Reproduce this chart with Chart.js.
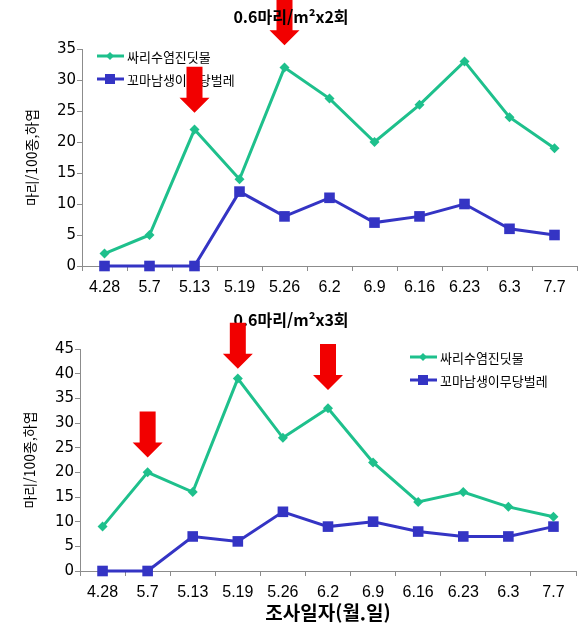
<!DOCTYPE html>
<html lang="ko">
<head>
    <meta charset="UTF-8">
    <title>싸리수염진딧물 / 꼬마남생이무당벌레 발생</title>
    <script src="https://cdn.jsdelivr.net/npm/chart.js@4.4.0/dist/chart.umd.min.js"></script>
    <style>
        body {
            margin: 0;
            background: #ffffff;
        }
        .wrap {
            position: relative;
            width: 586px;
            height: 634px;
        }
        #chart2x {
            position: absolute;
            left: 0;
            top: 0;
        }
        #chart3x {
            position: absolute;
            left: 0;
            top: 300px;
        }
    </style>
</head>
<body>
    <div class="wrap">
        <canvas id="chart2x" width="586" height="300"></canvas>
        <canvas id="chart3x" width="586" height="334"></canvas>
    </div>

    <script>
        // survey dates (month.day)
        const dates = ['4.28', '5.7', '5.13', '5.19', '5.26', '6.2', '6.9', '6.16', '6.23', '6.3', '7.7'];
        const seriesNames = ['싸리수염진딧물', '꼬마남생이무당벌레'];

        // release 0.6/m2 x 2 times
        const aphid2x = [2, 5, 22, 14, 32, 27, 20, 26, 33, 24, 19];
        const ladybird2x = [0, 0, 0, 12, 8, 11, 7, 8, 10, 6, 5];
        const yMax2x = 35;
        const arrowDates2x = ['5.13', '5.26'];
        const arrowTips2x = [24.7, 35.6];

        // release 0.6/m2 x 3 times
        const aphid3x = [9, 20, 16, 39, 27, 33, 22, 14, 16, 13, 11];
        const ladybird3x = [0, 0, 7, 6, 12, 9, 10, 8, 7, 7, 9];
        const yMax3x = 45;
        const arrowDates3x = ['5.7', '5.19', '6.2'];
        const arrowTips3x = [23, 41, 36.7];

        const yStep = 5;
        const title2x = '0.6마리/m²x2회';
        const title3x = '0.6마리/m²x3회';
        const yTitle = '마리/100종,하엽';
        const xTitle = '조사일자(월.일)';

        const GREEN = '#1ec08c';
        const BLUE = '#3434c4';
        const RED = '#f20000';
        const AXIS = '#8c8c8c';
        const KR = '"Noto Sans CJK KR", sans-serif';

        function drawMarker(ctx, style, x, y, r, color) {
            ctx.save();
            ctx.fillStyle = color;
            ctx.beginPath();
            if (style === 'rect') {
                ctx.rect(x - r, y - r, r * 2, r * 2);
            } else {
                ctx.moveTo(x, y - r);
                ctx.lineTo(x + r, y);
                ctx.lineTo(x, y + r);
                ctx.lineTo(x - r, y);
                ctx.closePath();
            }
            ctx.fill();
            ctx.restore();
        }

        // titles, legend and release arrows
        const extrasPlugin = {
            id: 'extras',
            afterDatasetsDraw(chart) {
                const opts = chart.options.plugins.extras;
                const ctx = chart.ctx;
                const xs = chart.scales.x;
                const ys = chart.scales.y;

                function drawTitle() {
                    ctx.save();
                    ctx.font = 'bold 16px ' + KR;
                    ctx.fillStyle = '#000';
                    ctx.textAlign = 'center';
                    ctx.textBaseline = 'middle';
                    ctx.fillText(opts.title, opts.titleX, opts.titleY);
                    ctx.restore();
                }

                function drawArrows() {
                    ctx.save();
                    ctx.fillStyle = RED;
                    opts.arrowDates.forEach((d, i) => {
                        const x = xs.getPixelForValue(dates.indexOf(d));
                        const tip = ys.getPixelForValue(opts.arrowTips[i]);
                        ctx.beginPath();
                        ctx.moveTo(x - 8, tip - 46);
                        ctx.lineTo(x + 8, tip - 46);
                        ctx.lineTo(x + 8, tip - 15);
                        ctx.lineTo(x + 15, tip - 15);
                        ctx.lineTo(x, tip);
                        ctx.lineTo(x - 15, tip - 15);
                        ctx.lineTo(x - 8, tip - 15);
                        ctx.closePath();
                        ctx.fill();
                    });
                    ctx.restore();
                }

                // legend
                ctx.save();
                chart.data.datasets.forEach((ds, i) => {
                    const y = opts.legendY + i * 23;
                    const x = opts.legendX;
                    ctx.strokeStyle = ds.borderColor;
                    ctx.lineWidth = 3;
                    ctx.beginPath();
                    ctx.moveTo(x, y);
                    ctx.lineTo(x + 27, y);
                    ctx.stroke();
                    drawMarker(ctx, ds.pointStyle, x + 13, y, ds.pointStyle === 'rect' ? 5 : 4, ds.borderColor);
                    ctx.font = '13px ' + KR;
                    ctx.fillStyle = '#000';
                    ctx.textBaseline = 'middle';
                    ctx.fillText(ds.label, x + 30, y + 1);
                });
                ctx.restore();

                if (opts.arrowsOnTop) {
                    drawTitle();
                    drawArrows();
                } else {
                    drawArrows();
                    drawTitle();
                }
            }
        };

        function makeChart(id, aphid, ladybird, yMax, setup) {
            return new Chart(document.getElementById(id), {
                type: 'line',
                data: {
                    labels: dates,
                    datasets: [{
                        label: seriesNames[0],
                        data: aphid,
                        borderColor: GREEN,
                        backgroundColor: GREEN,
                        borderWidth: 3,
                        pointStyle: 'rectRot',
                        pointRadius: 5,
                        pointBorderWidth: 0,
                        tension: 0,
                        clip: false
                    }, {
                        label: seriesNames[1],
                        data: ladybird,
                        borderColor: BLUE,
                        backgroundColor: BLUE,
                        borderWidth: 3,
                        pointStyle: 'rect',
                        pointRadius: 7.5,
                        pointBorderWidth: 0,
                        tension: 0,
                        clip: false
                    }]
                },
                options: {
                    responsive: false,
                    animation: false,
                    layout: {
                        padding: { top: setup.top, right: setup.right, left: 0, bottom: 0 }
                    },
                    plugins: {
                        legend: { display: false },
                        tooltip: { enabled: false },
                        extras: setup.extras
                    },
                    scales: {
                        x: {
                            offset: true,
                            afterFit(scale) { scale.height = setup.xHeight; },
                            grid: {
                                offset: true,
                                drawOnChartArea: false,
                                color: AXIS,
                                tickLength: 5
                            },
                            border: { color: AXIS, width: 1 },
                            ticks: {
                                color: '#000',
                                padding: 7,
                                maxRotation: 0,
                                autoSkip: false,
                                font: { family: 'Liberation Sans', size: 16 }
                            },
                            title: {
                                display: setup.showXTitle,
                                text: xTitle,
                                color: '#000',
                                font: { family: KR, size: 19, weight: 'bold' },
                                padding: { top: 0, bottom: 10 }
                            }
                        },
                        y: {
                            min: 0,
                            max: yMax,
                            afterFit(scale) { scale.width = setup.yWidth; },
                            grid: {
                                drawOnChartArea: false,
                                color: AXIS,
                                tickLength: 5
                            },
                            border: { color: AXIS, width: 1 },
                            ticks: {
                                stepSize: yStep,
                                color: '#000',
                                padding: 1,
                                font: { family: 'DejaVu Sans', size: 15 }
                            },
                            title: {
                                display: true,
                                text: yTitle,
                                color: '#000',
                                font: { family: KR, size: 14 },
                                padding: { top: setup.yTitlePad, bottom: 0 }
                            }
                        }
                    }
                },
                plugins: [extrasPlugin]
            });
        }

        makeChart('chart2x', aphid2x, ladybird2x, yMax2x, {
            top: 49, right: 9, xHeight: 34, yWidth: 82, yTitlePad: 23, showXTitle: false,
            extras: {
                title: title2x, titleX: 291, titleY: 17,
                legendX: 97, legendY: 56,
                arrowDates: arrowDates2x, arrowTips: arrowTips2x,
                arrowsOnTop: false
            }
        });

        makeChart('chart3x', aphid3x, ladybird3x, yMax3x, {
            top: 49, right: 10, xHeight: 63, yWidth: 80, yTitlePad: 21, showXTitle: true,
            extras: {
                title: title3x, titleX: 291, titleY: 20,
                legendX: 410, legendY: 57,
                arrowDates: arrowDates3x, arrowTips: arrowTips3x,
                arrowsOnTop: true
            }
        });
    </script>
</body>
</html>
